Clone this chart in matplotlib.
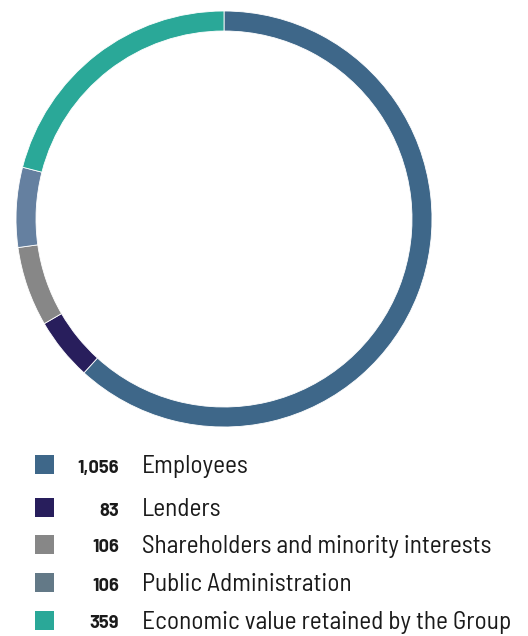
import matplotlib
matplotlib.use('Agg')
import matplotlib.pyplot as plt
from matplotlib.patches import Rectangle
from matplotlib import font_manager

# Distribution of economic value (values in the legend)
categories = ['Employees', 'Lenders', 'Shareholders and minority interests',
              'Public Administration', 'Economic value retained by the Group']
values = [1056, 83, 106, 106, 359]
value_labels = ['1,056', '83', '106', '106', '359']

ring_colors = ['#3e6789', '#281e5c', '#878787', '#6580a0', '#2aa898']
swatch_colors = ['#3e6789', '#281e5c', '#878787', '#637987', '#2aa898']

names = {f.name for f in font_manager.fontManager.ttflist}
label_font = 'Barlow Semi Condensed' if 'Barlow Semi Condensed' in names else 'DejaVu Sans'
value_font = 'Barlow' if 'Barlow' in names else label_font

W, H = 528, 636
fig = plt.figure(figsize=(W / 100, H / 100), dpi=100)
ax = fig.add_axes([0, 0, 1, 1])

# ring: centre and radius in pixel units, y measured from the bottom
ax.pie(values, colors=ring_colors, startangle=90, counterclock=False,
       center=(224, H - 219), radius=208,
       wedgeprops=dict(width=20, edgecolor='white', linewidth=0.6))

ax.set_xlim(0, W)
ax.set_ylim(0, H)
ax.set_aspect('equal')
ax.axis('off')

# legend rows (swatch centres, pixels from the top)
row_y = [464.5, 507.5, 544, 582.5, 620]
for y, c, v, name in zip(row_y, swatch_colors, value_labels, categories):
    ax.add_patch(Rectangle((35, H - y - 9.5), 19, 19, color=c, lw=0))
    ax.text(119, H - y - 8.5, v, ha='right', va='baseline', fontsize=13.2,
            fontweight='bold', family=value_font, color='#1a1a1a')
    ax.text(142, H - y - 8.5, name, ha='left', va='baseline', fontsize=18.2,
            family=label_font, color='#1a1a1a')

fig.savefig('out.png', dpi=100)
